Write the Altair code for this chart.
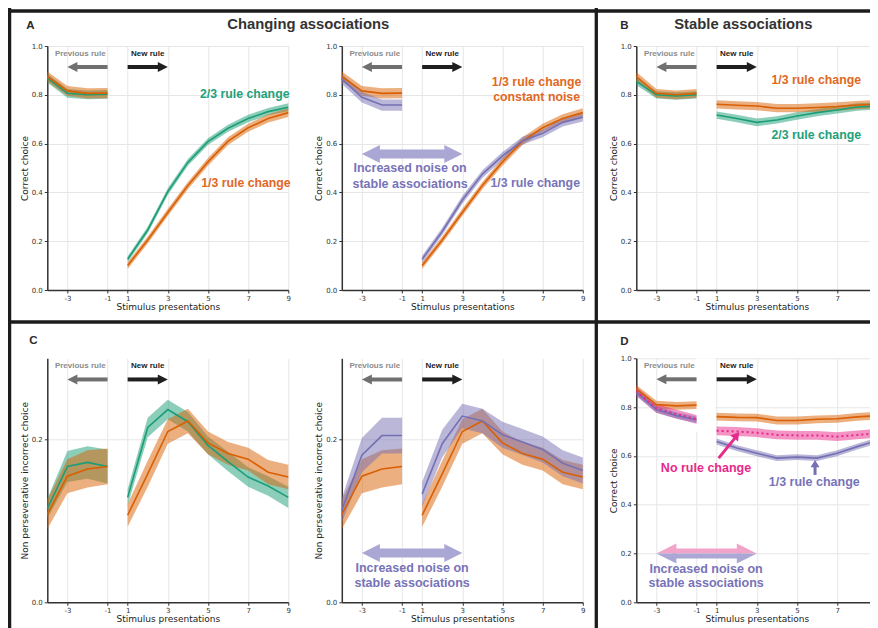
import altair as alt
import pandas as pd

# ---------------- data ----------------
X_PRE = [-4, -3, -2, -1]
X_POST = [1, 2, 3, 4, 5, 6, 7, 8, 9]
X_TICKS = [-3, -1, 1, 3, 5, 7, 9]

# A: changing associations (correct choice)
A_ORANGE_PRE = [0.875, 0.816, 0.806, 0.807]
A_ORANGE_POST = [0.100, 0.205, 0.318, 0.428, 0.525, 0.610, 0.665, 0.703, 0.727]
A_ORANGE_ERR_PRE = [0.020, 0.020, 0.021, 0.021]
A_ORANGE_ERR_POST = [0.014, 0.014, 0.015, 0.015, 0.016, 0.016, 0.016, 0.017, 0.018]
A_GREEN_PRE = [0.868, 0.806, 0.800, 0.802]
A_GREEN_POST = [0.126, 0.246, 0.403, 0.523, 0.608, 0.663, 0.703, 0.731, 0.749]
A_GREEN_ERR_PRE = [0.018, 0.018, 0.018, 0.018]
A_GREEN_ERR_POST = [0.012, 0.013, 0.014, 0.014, 0.014, 0.014, 0.015, 0.015, 0.016]
A_PURPLE_PRE = [0.865, 0.790, 0.758, 0.758]
A_PURPLE_POST = [0.126, 0.240, 0.369, 0.475, 0.550, 0.612, 0.642, 0.687, 0.708]
A_PURPLE_ERR_PRE = [0.020, 0.022, 0.023, 0.023]
A_PURPLE_ERR_POST = [0.014, 0.015, 0.016, 0.016, 0.016, 0.016, 0.016, 0.017, 0.017]

# B: stable associations (correct choice)
B_ORANGE_PRE = [0.875, 0.806, 0.800, 0.806]
B_ORANGE_POST = [0.761, 0.757, 0.754, 0.745, 0.745, 0.748, 0.752, 0.758, 0.762]
B_ORANGE_ERR_PRE = [0.018, 0.018, 0.018, 0.018]
B_ORANGE_ERR_POST = [0.017, 0.017, 0.017, 0.017, 0.017, 0.017, 0.017, 0.017, 0.017]
B_GREEN_PRE = [0.855, 0.800, 0.795, 0.800]
B_GREEN_POST = [0.717, 0.703, 0.687, 0.697, 0.713, 0.727, 0.738, 0.750, 0.754]
B_GREEN_ERR_PRE = [0.015, 0.015, 0.015, 0.015]
B_GREEN_ERR_POST = [0.015, 0.015, 0.016, 0.015, 0.015, 0.015, 0.015, 0.015, 0.015]

# C: non perseverative incorrect choice
C_GREEN_PRE = [0.115, 0.167, 0.172, 0.167]
C_GREEN_POST = [0.129, 0.215, 0.237, 0.222, 0.193, 0.173, 0.154, 0.143, 0.129]
C_GREEN_ERR_PRE = [0.012, 0.019, 0.020, 0.021]
C_GREEN_ERR_POST = [0.010, 0.012, 0.012, 0.012, 0.011, 0.012, 0.012, 0.012, 0.013]
C_ORANGE_PRE = [0.108, 0.155, 0.164, 0.167]
C_ORANGE_POST = [0.107, 0.158, 0.210, 0.223, 0.196, 0.183, 0.176, 0.160, 0.154]
C_ORANGE_ERR_PRE = [0.018, 0.021, 0.023, 0.022]
C_ORANGE_ERR_POST = [0.014, 0.016, 0.015, 0.015, 0.014, 0.014, 0.014, 0.015, 0.015]
C_PURPLE_PRE = [0.113, 0.181, 0.205, 0.205]
C_PURPLE_POST = [0.133, 0.195, 0.229, 0.223, 0.206, 0.197, 0.188, 0.171, 0.162]
C_PURPLE_ERR_PRE = [0.015, 0.021, 0.022, 0.022]
C_PURPLE_ERR_POST = [0.015, 0.017, 0.015, 0.015, 0.016, 0.016, 0.016, 0.016, 0.016]

# D: stable associations with increased noise (correct choice)
D_ORANGE_PRE = [0.875, 0.810, 0.805, 0.808]
D_ORANGE_POST = [0.761, 0.758, 0.757, 0.745, 0.745, 0.750, 0.752, 0.760, 0.765]
D_ORANGE_ERR_PRE = [0.016, 0.016, 0.016, 0.016]
D_ORANGE_ERR_POST = [0.016, 0.016, 0.016, 0.016, 0.016, 0.016, 0.016, 0.016, 0.016]
D_PINK_PRE = [0.865, 0.795, 0.771, 0.750]
D_PINK_POST = [0.703, 0.700, 0.695, 0.686, 0.684, 0.684, 0.679, 0.686, 0.693]
D_PINK_ERR_PRE = [0.018, 0.018, 0.018, 0.018]
D_PINK_ERR_POST = [0.018, 0.018, 0.018, 0.018, 0.018, 0.018, 0.018, 0.018, 0.018]
D_PURPLE_PRE = [0.860, 0.790, 0.765, 0.748]
D_PURPLE_POST = [0.659, 0.632, 0.611, 0.591, 0.595, 0.591, 0.611, 0.638, 0.663]
D_PURPLE_ERR_PRE = [0.013, 0.013, 0.013, 0.013]
D_PURPLE_ERR_POST = [0.012, 0.012, 0.012, 0.012, 0.012, 0.012, 0.012, 0.012, 0.012]

# ---------------- styling ----------------
GREEN, ORANGE, PURPLE, PINK = "#1b9e77", "#d95f02", "#7570b3", "#e7298a"
GREEN_T, ORANGE_T, PURPLE_T = "#22a07a", "#e0681f", "#7873b8"
FONT = "Liberation Sans"
W, H = 241, 244
PX = W / 12.0
XSCALE = alt.Scale(domain=[-4, -1, 1, 9], range=[0, 3 * PX, 4 * PX, W], nice=False, zero=False)
XAXIS = alt.Axis(values=X_TICKS, title="Stimulus presentations", titleX=W / 2, titleY=16,
                 titleBaseline="middle", titleAlign="center", labelFlush=False,
                 labelPadding=1, tickSize=3,
                 labelExpr="replace(datum.label, '\u2212', '-')")
KIND = {
    "cc": dict(domain=[0, 1], values=[0, 0.2, 0.4, 0.6, 0.8, 1.0], title="Correct choice",
               lab=0.967, arr=0.914),
    "np": dict(domain=[0, 0.3], values=[0, 0.2], title="Non perseverative incorrect choice",
               lab=0.290, arr=0.274),
}
ONE = pd.DataFrame({"k": [0]})


def xenc():
    return alt.X("x:Q", scale=XSCALE, axis=XAXIS)


def yenc(field, k):
    kd = KIND[k]
    return alt.Y(f"{field}:Q", scale=alt.Scale(domain=kd["domain"], nice=False, zero=False),
                 axis=alt.Axis(values=kd["values"], format=".1f", title=kd["title"],
                               titleX=-23, titleY=H / 2, titleBaseline="middle",
                               titleAlign="center", labelFlush=False, labelPadding=2, tickSize=3))


def series_df(pre, post, epre, epost):
    rows = []
    for seg, xs, ys, es in (("pre", X_PRE, pre, epre), ("post", X_POST, post, epost)):
        for x, y, e in zip(xs, ys, es):
            rows.append({"seg": seg, "x": x, "y": y, "lo": y - e, "hi": y + e})
    return pd.DataFrame(rows)


def band(df, color, k):
    return alt.Chart(df).mark_area(color=color, opacity=0.5).encode(
        x=xenc(), y=yenc("lo", k), y2=alt.Y2("hi:Q"), detail="seg:N")


def line(df, color, k, dash=None, width=1.6):
    kw = dict(color=color, strokeWidth=width)
    if dash:
        kw["strokeDash"] = dash
    return alt.Chart(df).mark_line(**kw).encode(x=xenc(), y=yenc("y", k), detail="seg:N")


def hrule(x1, x2, y, color, width, k, yoff=0):
    return alt.Chart(pd.DataFrame({"x": [x1], "x2": [x2], "y": [y]})).mark_rule(
        color=color, strokeWidth=width, yOffset=yoff, strokeCap="butt").encode(
        x=xenc(), x2=alt.X2("x2:Q"), y=yenc("y", k))


def seg_rule(x1, y1, x2, y2, color, width, k):
    return alt.Chart(pd.DataFrame({"x": [x1], "x2": [x2], "y": [y1], "y2": [y2]})).mark_rule(
        color=color, strokeWidth=width, strokeCap="butt").encode(
        x=xenc(), x2=alt.X2("x2:Q"), y=yenc("y", k), y2=alt.Y2("y2:Q"))


def head(x, y, path, size, color, k, angle=0):
    return alt.Chart(pd.DataFrame({"x": [x], "y": [y]})).mark_point(
        shape=path, size=size, filled=True, fill=color, color=color, opacity=1,
        strokeWidth=0, angle=angle).encode(x=xenc(), y=yenc("y", k))


def label(x, y, text, color, size, k, weight="bold", align="center"):
    return alt.Chart(pd.DataFrame({"x": [x], "y": [y], "t": [text]})).mark_text(
        color=color, fontSize=size, fontWeight=weight, font=FONT, align=align,
        baseline="middle").encode(x=xenc(), y=yenc("y", k), text="t:N")


def ptext(text, x, y, size, color="#2a2a2a"):
    return alt.Chart(ONE).mark_text(text=text, fontSize=size, fontWeight="bold", font=FONT,
                                    color=color, align="center", baseline="alphabetic").encode(
        x=alt.value(x), y=alt.value(y))


def prule(x1, x2, y1, y2):
    return alt.Chart(ONE).mark_rule(color="#1c1c1c", strokeWidth=3.3, strokeCap="square").encode(
        x=alt.value(x1), x2=alt.value(x2), y=alt.value(y1), y2=alt.value(y2))


LEFT = "M0,0L2,-1L2,1Z"
RIGHT = "M0,0L-2,-1L-2,1Z"
UP = "M0,0L-1,1.6L1,1.6Z"


def rule_markers(k):
    kd = KIND[k]
    return [
        label(-2.36, kd["lab"], "Previous rule", "#8c8c8c", 8, k),
        label(2.0, kd["lab"], "New rule", "#222222", 8, k),
        hrule(-1, -2.55, kd["arr"], "#707070", 4, k),
        head(-3, kd["arr"], LEFT, 100, "#707070", k),
        hrule(1, 2.55, kd["arr"], "#1f1f1f", 4, k),
        head(3, kd["arr"], RIGHT, 100, "#1f1f1f", k),
    ]


def noise_arrow(y, ytext1, ytext2, xc, k):
    c = "#aaa7d5"
    return [
        hrule(-2.2, 2.2, y, c, 9, k),
        head(-3, y, LEFT, 324, c, k),
        head(3, y, RIGHT, 324, c, k),
        label(xc, ytext1, "Increased noise on", PURPLE_T, 12.5, k),
        label(xc, ytext2, "stable associations", PURPLE_T, 12.5, k),
    ]


# ---------------- panels ----------------
a_or = series_df(A_ORANGE_PRE, A_ORANGE_POST, A_ORANGE_ERR_PRE, A_ORANGE_ERR_POST)
a_gr = series_df(A_GREEN_PRE, A_GREEN_POST, A_GREEN_ERR_PRE, A_GREEN_ERR_POST)
a_pu = series_df(A_PURPLE_PRE, A_PURPLE_POST, A_PURPLE_ERR_PRE, A_PURPLE_ERR_POST)
b_or = series_df(B_ORANGE_PRE, B_ORANGE_POST, B_ORANGE_ERR_PRE, B_ORANGE_ERR_POST)
b_gr = series_df(B_GREEN_PRE, B_GREEN_POST, B_GREEN_ERR_PRE, B_GREEN_ERR_POST)
c_gr = series_df(C_GREEN_PRE, C_GREEN_POST, C_GREEN_ERR_PRE, C_GREEN_ERR_POST)
c_or = series_df(C_ORANGE_PRE, C_ORANGE_POST, C_ORANGE_ERR_PRE, C_ORANGE_ERR_POST)
c_pu = series_df(C_PURPLE_PRE, C_PURPLE_POST, C_PURPLE_ERR_PRE, C_PURPLE_ERR_POST)
d_or = series_df(D_ORANGE_PRE, D_ORANGE_POST, D_ORANGE_ERR_PRE, D_ORANGE_ERR_POST)
d_pk = series_df(D_PINK_PRE, D_PINK_POST, D_PINK_ERR_PRE, D_PINK_ERR_POST)
d_pu = series_df(D_PURPLE_PRE, D_PURPLE_POST, D_PURPLE_ERR_PRE, D_PURPLE_ERR_POST)

A1 = alt.layer(
    band(a_gr, GREEN, "cc"), band(a_or, ORANGE, "cc"),
    line(a_gr, GREEN, "cc"), line(a_or, ORANGE, "cc"),
    *rule_markers("cc"),
    label(6.83, 0.803, "2/3 rule change", GREEN_T, 12.3, "cc"),
    label(6.89, 0.437, "1/3 rule change", ORANGE_T, 12.3, "cc"),
    prule(-40, 835, -35, -35),
    prule(-37.7, -37.7, -36.5, 586),
    prule(549, 549, -36.5, 586),
    prule(-40, 835, 276, 276),
    ptext("A", -17, -17, 11.5),
    ptext("Changing associations", 261, -17.5, 14.8, "#333333"),
).properties(width=W, height=H)

A2 = alt.layer(
    band(a_or, ORANGE, "cc"), band(a_pu, PURPLE, "cc"),
    line(a_or, ORANGE, "cc"), line(a_pu, PURPLE, "cc"),
    *rule_markers("cc"),
    label(6.7, 0.851, "1/3 rule change", ORANGE_T, 12.3, "cc"),
    label(6.7, 0.790, "constant noise", ORANGE_T, 12.3, "cc"),
    label(6.63, 0.437, "1/3 rule change", PURPLE_T, 12.3, "cc"),
    *noise_arrow(0.557, 0.499, 0.434, -0.2, "cc"),
).properties(width=W, height=H)

B = alt.layer(
    band(b_gr, GREEN, "cc"), band(b_or, ORANGE, "cc"),
    line(b_gr, GREEN, "cc"), line(b_or, ORANGE, "cc"),
    *rule_markers("cc"),
    label(5.96, 0.861, "1/3 rule change", ORANGE_T, 12.3, "cc"),
    label(5.96, 0.635, "2/3 rule change", GREEN_T, 12.3, "cc"),
    ptext("B", -12, -17, 11.5),
    ptext("Stable associations", 107, -17.5, 14.8, "#333333"),
).properties(width=W, height=H)

C1 = alt.layer(
    band(c_gr, GREEN, "np"), band(c_or, ORANGE, "np"),
    line(c_gr, GREEN, "np"), line(c_or, ORANGE, "np"),
    *rule_markers("np"),
    ptext("C", -14, -14, 11.5),
).properties(width=W, height=H)

C2 = alt.layer(
    band(c_or, ORANGE, "np"), band(c_pu, PURPLE, "np"),
    line(c_or, ORANGE, "np"), line(c_pu, PURPLE, "np"),
    *rule_markers("np"),
    *noise_arrow(0.0605, 0.042, 0.0237, 0.0, "np"),
).properties(width=W, height=H)

gap = alt.Chart(pd.DataFrame({"x": [-1.05], "x2": [0.9], "y": [0.70], "y2": [1.0]})).mark_rect(
    color="white").encode(x=xenc(), x2=alt.X2("x2:Q"), y=yenc("y", "cc"), y2=alt.Y2("y2:Q"))

D = alt.layer(
    gap,
    band(d_or, ORANGE, "cc"), band(d_pk, PINK, "cc"), band(d_pu, PURPLE, "cc"),
    line(d_or, ORANGE, "cc"), line(d_pu, PURPLE, "cc"),
    line(d_pk, PINK, "cc", dash=[2, 3], width=2),
    *rule_markers("cc"),
    hrule(-2.2, 2.2, 0.2, "#f2a3c9", 5, "cc", yoff=-2.5),
    hrule(-2.2, 2.2, 0.2, "#aaa7d5", 5, "cc", yoff=2.5),
    head(-3, 0.2, "M0,0L2,-1L2,0Z", 400, "#f2a3c9", "cc"),
    head(-3, 0.2, "M0,0L2,0L2,1Z", 400, "#aaa7d5", "cc"),
    head(3, 0.2, "M0,0L-2,-1L-2,0Z", 400, "#f2a3c9", "cc"),
    head(3, 0.2, "M0,0L-2,0L-2,1Z", 400, "#aaa7d5", "cc"),
    label(-0.05, 0.138, "Increased noise on", PURPLE_T, 12.5, "cc"),
    label(-0.05, 0.079, "stable associations", PURPLE_T, 12.5, "cc"),
    seg_rule(1.1, 0.591, 1.9, 0.672, PINK, 3, "cc"),
    head(2.12, 0.697, UP, 100, PINK, "cc", angle=38.5),
    label(-0.06, 0.552, "No rule change", PINK, 12.5, "cc"),
    seg_rule(5.9, 0.522, 5.9, 0.56, PURPLE, 3, "cc"),
    head(5.9, 0.583, UP, 81, PURPLE, "cc"),
    label(5.86, 0.492, "1/3 rule change", PURPLE_T, 12.5, "cc"),
    ptext("D", -12, -13.5, 11.5),
).properties(width=W, height=H)

# The figure is wider than the page: fix the canvas to the page's 862 px content box
# (no rescaling) and let the right-most strip be cut off, as in the reference.
PAD_L, PAD_T = 39.3, 38.0
chart = alt.concat(
    A1, A2, B, C1, C2, D, columns=3, spacing={"row": 68.3, "column": 53.5}, bounds="flush"
).properties(
    autosize=alt.AutoSizeParams(type="none"),
    padding={"left": PAD_L, "top": PAD_T, "right": 862 - PAD_L, "bottom": 620 - PAD_T},
).configure_view(stroke="transparent").configure_axis(
    labelFont="DejaVu Sans", labelFontSize=7, labelColor="#333333",
    titleFont="DejaVu Sans", titleFontSize=9, titleFontWeight="normal", titleColor="#222222",
    domainColor="#333333", domainWidth=1.5, tickColor="#333333", tickWidth=1,
    gridColor="#e6e6e6", gridWidth=1
).configure_text(font=FONT)

chart.save("out.html", embed_options={"renderer": "svg", "actions": False})
